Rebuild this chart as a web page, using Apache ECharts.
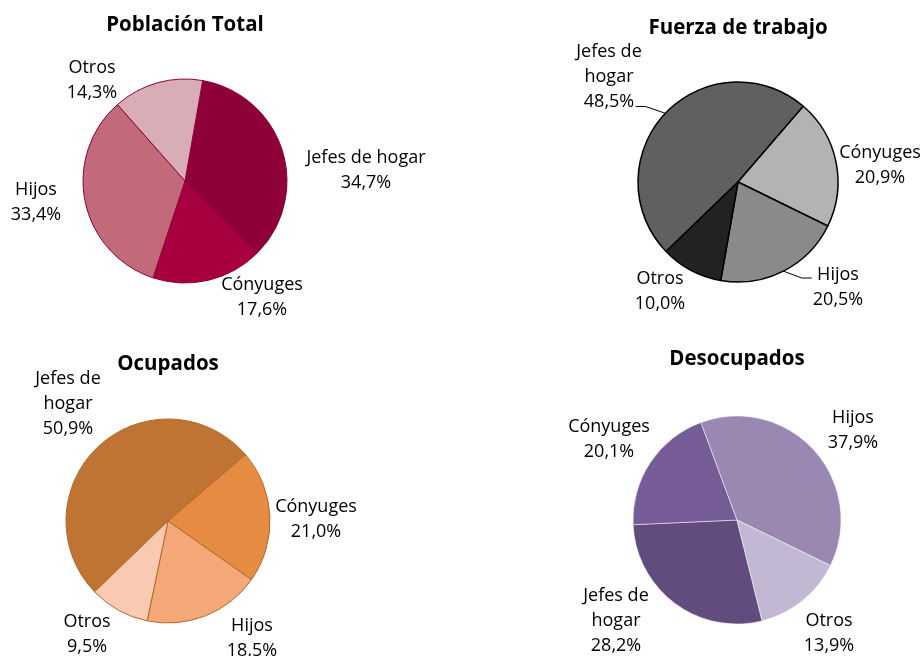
<!DOCTYPE html>
<html>
<head>
<meta charset="utf-8">
<title>Composición por parentesco</title>
<script src="https://cdn.jsdelivr.net/npm/echarts@6/dist/echarts.min.js"></script>
<style>
  html, body { margin: 0; padding: 0; background: #fff; }
  #grafico { width: 922px; height: 656px; }
</style>
</head>
<body>
<div id="grafico"></div>
<script>
// datos
const categorias = ['Jefes de hogar', 'Cónyuges', 'Hijos', 'Otros'];
const titulos = ['Población Total', 'Fuerza de trabajo', 'Ocupados', 'Desocupados'];
const poblacionTotal = [34.7, 17.6, 33.4, 14.3];
const fuerzaTrabajo = [48.5, 20.9, 20.5, 10.0];
const ocupados = [50.9, 21.0, 18.5, 9.5];
const desocupados = [28.2, 20.1, 37.9, 13.9];

const valores = [poblacionTotal, fuerzaTrabajo, ocupados, desocupados];

// disposición y estilos
const centros = [[185, 181], [738, 182], [168, 521], [737, 520]];
const radios = [102, 100, 102, 104];
const angulosInicio = [80, 224, 224, 284];
const centrosTitulo = [[185, 25], [738, 28], [168, 364], [737, 359]];
const colores = [
    ['#8E0038', '#A8003F', '#C36A7A', '#D9ADB5'],
    ['#606060', '#B3B3B3', '#8A8A8A', '#222222'],
    ['#C07434', '#E68C42', '#F5A877', '#F8CAB2'],
    ['#624C7E', '#765C97', '#9A87B2', '#C3B8D3']
];
const bordes = [
    { borderColor: '#8E0038', borderWidth: 1 },
    { borderColor: '#000000', borderWidth: 1.5 },
    { borderColor: '#B5682C', borderWidth: 1 },
    { borderColor: '#ffffff', borderWidth: 0.5 }
];
// posición (centro) de cada etiqueta
const posEtiquetas = [
    [[366, 170], [262, 297], [36, 202], [92, 80]],
    [[609, 77], [880, 165], [838, 287], [660, 291]],
    [[68, 404], [316, 519], [252, 638], [87, 634]],
    [[616, 621], [609, 439], [853, 430], [829, 633]]
];
const partirJefes = [false, true, true, true];
// etiquetas con línea guía (serie 2: Jefes de hogar e Hijos)
const conLinea = [[], [0, 2], [], []];

const fuente = 'Open Sans';

function fmt(v) {
    return v.toFixed(1).replace('.', ',') + '%';
}

// punto del borde del sector en su ángulo medio
function bordeSector(i, j) {
    let vals = valores[i];
    let total = vals.reduce(function (a, b) { return a + b; }, 0);
    let acum = 0;
    for (let k = 0; k < j; k++) acum += vals[k];
    let medio = (acum + vals[j] / 2) / total * 360;
    let ang = (angulosInicio[i] - medio) * Math.PI / 180;
    return [centros[i][0] + radios[i] * Math.cos(ang), centros[i][1] - radios[i] * Math.sin(ang)];
}

let titles = [], series = [];

for (let i = 0; i < 4; i++) {
    titles.push({
        text: titulos[i],
        left: centrosTitulo[i][0],
        top: centrosTitulo[i][1],
        textAlign: 'center',
        textVerticalAlign: 'middle',
        padding: 0,
        textStyle: { fontFamily: fuente, fontSize: 20.5, fontWeight: 'bold', color: '#000' }
    });

    let datos = categorias.map(function (c, j) {
        let item = { name: c, value: valores[i][j], itemStyle: { color: colores[i][j] } };
        if (conLinea[i].indexOf(j) >= 0) {
            item.labelLine = { show: true };
        }
        return item;
    });

    series.push({
        type: 'pie',
        center: centros[i],
        radius: radios[i],
        startAngle: angulosInicio[i],
        clockwise: true,
        animation: false,
        silent: true,
        itemStyle: bordes[i],
        data: datos,
        label: {
            show: true,
            position: 'outside',
            overflow: 'none',
            fontFamily: fuente,
            fontSize: 18,
            lineHeight: 25,
            color: '#000',
            align: 'center',
            formatter: function (p) {
                let nombre = p.name;
                if (partirJefes[i] && p.dataIndex === 0) nombre = 'Jefes de\nhogar';
                return nombre + '\n' + fmt(p.value);
            }
        },
        labelLine: {
            show: false,
            length: 8,
            length2: 8,
            lineStyle: { color: '#000', width: 1 }
        },
        labelLayout: function (params) {
            let j = params.dataIndex;
            let pos = posEtiquetas[i][j];
            let res = { x: pos[0], y: pos[1], align: 'center', verticalAlign: 'middle' };
            if (conLinea[i].indexOf(j) >= 0) {
                let w = params.labelRect.width, h = params.labelRect.height;
                let p0 = bordeSector(i, j);
                let p2, p1;
                if (p0[0] < pos[0]) {
                    // etiqueta a la derecha del sector
                    p2 = [pos[0] - w / 2 - 1, pos[1] - h / 2 + 16];
                    p1 = [p2[0] - 10, p2[1]];
                } else {
                    // etiqueta a la izquierda del sector
                    p2 = [pos[0] + w / 2 - 6, pos[1] + h / 2 - 8];
                    p1 = [p2[0] + 10, p2[1]];
                }
                res.labelLinePoints = [p0, p1, p2];
            }
            return res;
        }
    });
}

let chart = echarts.init(document.getElementById('grafico'));
chart.setOption({
    backgroundColor: '#ffffff',
    title: titles,
    series: series
});
</script>
</body>
</html>
